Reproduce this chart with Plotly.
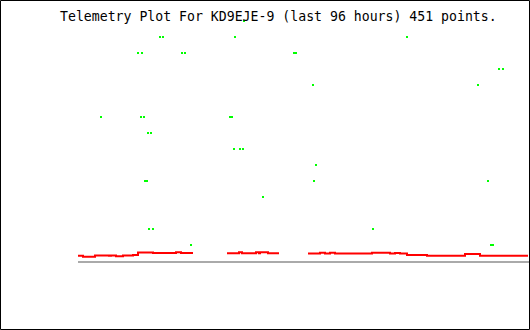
import plotly.graph_objects as go

title_text = "Telemetry Plot For KD9EJE-9 (last 96 hours) 451 points."

# red channel: step breakpoints (sample index, value); None marks a gap
red_x = [0, 5, 17, 31, 33, 38, 45, 55, 60, 75, 98, 103, 115, 116,
         149, 161, 164, 178, 181, 182, 190, 201, 202,
         230, 242, 247, 252, 257, 294, 312, 317, 322, 329, 349, 387, 402, 450]
red_v = [0.33, 0.26, 0.35, 0.33, 0.35, 0.30, 0.34, 0.375, 0.53, 0.50, 0.54, 0.50, 0.50, None,
         0.48, 0.54, 0.48, 0.54, 0.48, 0.54, 0.48, 0.48, None,
         0.47, 0.52, 0.47, 0.52, 0.47, 0.52, 0.47, 0.50, 0.47, 0.375, 0.325, 0.44, 0.33, 0.33]

# green channel: sparse samples (sample index, value)
green_x = [82, 85, 157, 329, 166,
           60, 64, 104, 107, 216, 218,
           421, 425,
           235, 400,
           23, 63, 66, 152, 154,
           70, 73,
           156, 162, 165,
           238,
           67, 69, 236, 410,
           185,
           71, 75, 295,
           113, 413, 415]
green_v = [14, 14, 14, 14, 15,
           13, 13, 13, 13, 13, 13,
           12, 12,
           11, 11,
           9, 9, 9, 9, 9,
           8, 8,
           7, 7, 7,
           6,
           5, 5, 5, 5,
           4,
           2, 2, 2,
           1, 1, 1]

fig = go.Figure()
fig.add_trace(go.Scatter(x=red_x, y=red_v, mode="lines", line=dict(color="#ff0000", width=2, shape="hv"),
                         connectgaps=False, hoverinfo="skip", showlegend=False))
fig.add_trace(go.Scatter(x=green_x, y=green_v, mode="markers",
                         marker=dict(symbol="square", size=2, color="#00ff00", line=dict(width=0)),
                         hoverinfo="skip", showlegend=False))

L, R, T, B = 78, 1, 5, 69
W, H = 530, 330
pw, ph = W - L - R, H - T - B

def px(x):
    return (x - L) / pw

def py(y):
    return (H - B - y) / ph

fig.update_layout(
    width=W, height=H,
    margin=dict(l=L, r=R, t=T, b=B, pad=0),
    paper_bgcolor="white", plot_bgcolor="white",
    xaxis=dict(range=[0, 451], showgrid=False, zeroline=False, showticklabels=False, ticks="",
               showline=True, linecolor="#aaaaaa", linewidth=2, fixedrange=True),
    yaxis=dict(range=[0, 16], showgrid=False, zeroline=False, showticklabels=False, ticks="",
               showline=False, fixedrange=True),
    annotations=[dict(text=title_text, xref="paper", yref="paper", x=px(278.5), y=py(16.5),
                      xanchor="center", yanchor="middle", showarrow=False,
                      font=dict(family="DejaVu Sans Mono", size=13.2, color="black"))],
    shapes=[dict(type="rect", xref="paper", yref="paper", x0=px(0.5), x1=px(529.5),
                 y0=py(329.5), y1=py(0.5), line=dict(color="black", width=1), layer="above")],
)

fig.write_html("out.html", config={"displayModeBar": False, "staticPlot": True})
